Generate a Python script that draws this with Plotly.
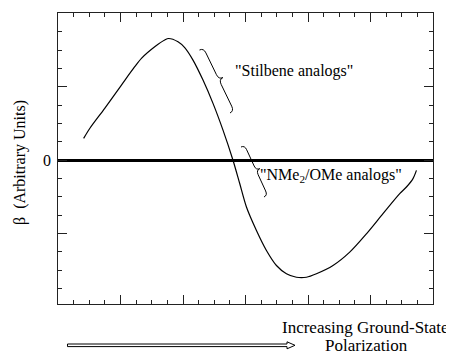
import plotly.graph_objects as go
import numpy as np

# ---- data (arbitrary units) ----
polarization = [1.64, 2.03, 2.99, 4.06, 4.91, 5.34, 6.19, 6.83, 7.08, 7.68, 8.11,
                8.64, 9.28, 9.92, 10.56, 11.20, 11.63, 12.06, 12.70, 13.34, 13.98,
                14.62, 15.26, 15.90, 16.54, 17.60, 18.67, 19.74, 20.80, 21.87,
                22.30, 22.72, 22.94]
beta = [1.19, 1.73, 2.83, 4.10, 5.10, 5.56, 6.19, 6.56, 6.64, 6.46, 6.14,
        5.46, 4.37, 3.10, 1.64, 0.00, -1.27, -2.55, -3.83, -4.92, -5.74,
        -6.19, -6.38, -6.38, -6.19, -5.74, -5.01, -4.01, -2.91, -1.82,
        -1.46, -1.00, -0.55]

y_title = "β  (Arbitrary Units)"
x_title_1 = "Increasing Ground-State"
x_title_2 = "Polarization"
label_stilbene = "\"Stilbene analogs\""
label_nme2 = "\"NMe<sub>2</sub>/OMe analogs\""

# ---- layout geometry (page pixels; page body has an 8px margin) ----
OFF = 8
W, H = 454 - OFF, 352 - OFF
ML, MR, MT, MB = 58 - OFF, 21, 13 - OFF, 48
PW, PH = W - ML - MR, H - MT - MB
FONT = "Liberation Serif, Times New Roman, serif"


def paper(px, py):
    fx, fy = px - OFF, py - OFF
    return (fx - ML) / PW, (H - MB - fy) / PH


def brace_path(p0, p1, depth):
    p0 = np.array(p0, float)
    p1 = np.array(p1, float)
    d = p1 - p0
    L = np.hypot(*d)
    u = d / L
    n = np.array([u[1], -u[0]])
    w = depth / 2.0
    q = min(w * 1.2, L / 5)
    mid = (p0 + p1) / 2
    pts = [
        ("M", [p0]),
        ("Q", [p0 + n * w, p0 + n * w + u * q]),
        ("L", [mid - u * q + n * w]),
        ("Q", [mid + n * w, mid + n * 2 * w]),
        ("Q", [mid + n * w, mid + u * q + n * w]),
        ("L", [p1 - u * q + n * w]),
        ("Q", [p1 + n * w, p1]),
    ]
    s = ""
    for cmd, ps in pts:
        s += cmd + " " + " ".join("%.5f,%.5f" % paper(*pp) for pp in ps) + " "
    return s.strip()


def arrow_path(x0, x1, y, half=1.3, head_len=8, head_half=3.5):
    xs = x1 - head_len
    pts = [(x0, y - half), (xs, y - half), (xs, y - head_half), (x1, y),
           (xs, y + head_half), (xs, y + half), (x0, y + half)]
    s = "M " + " L ".join("%.5f,%.5f" % paper(*p) for p in pts) + " Z"
    return s


fig = go.Figure()
fig.add_trace(go.Scatter(
    x=polarization, y=beta, mode="lines",
    line=dict(color="black", width=1.2, shape="spline", smoothing=0.8),
    showlegend=False, hoverinfo="skip"))

axis_common = dict(
    showgrid=False, showline=True, linecolor="#222", linewidth=1,
    mirror="ticks", ticks="inside", ticklen=9, tickwidth=1, tickcolor="#222",
    showticklabels=False,
    minor=dict(ticks="inside", ticklen=4, tickwidth=1, tickcolor="#222", dtick=1),
)

fig.update_xaxes(range=[0, 24], tickmode="linear", tick0=0, dtick=4,
                 zeroline=False, **axis_common)
fig.update_yaxes(range=[-7.84, 8.03], tickmode="linear", tick0=0, dtick=4,
                 zeroline=True, zerolinecolor="black", zerolinewidth=2.5,
                 **axis_common)

shapes = [
    dict(type="path", xref="paper", yref="paper",
         path=brace_path((199.5, 50), (230, 113), 9),
         line=dict(color="black", width=1)),
    dict(type="path", xref="paper", yref="paper",
         path=brace_path((241, 147), (264, 197), 8),
         line=dict(color="black", width=1)),
    dict(type="path", xref="paper", yref="paper",
         path=arrow_path(67.5, 295, 345.3),
         line=dict(color="black", width=1), fillcolor="white"),
]


def ann(text, px, py, size=16, angle=0, yref_data=None):
    ax, ay = paper(px, py)
    d = dict(text=text, x=ax, y=ay, xref="paper", yref="paper",
             xanchor="center", yanchor="middle", showarrow=False,
             textangle=angle, font=dict(family=FONT, size=size, color="black"))
    if yref_data is not None:
        d["y"] = yref_data
        d["yref"] = "y"
    return d


annotations = [
    ann(label_stilbene, 293.5, 71.5),
    ann(label_nme2, 331, 175),
    ann("0", 46.5, 0, yref_data=0),
    ann(y_title, 20, 163, angle=-90),
    ann(x_title_1, 365.5, 327, size=17),
    ann(x_title_2, 366, 345, size=17),
]

fig.update_layout(
    width=W, height=H, autosize=False,
    margin=dict(l=ML, r=MR, t=MT, b=MB, pad=0),
    paper_bgcolor="white", plot_bgcolor="white",
    shapes=shapes, annotations=annotations,
    font=dict(family=FONT, size=16, color="black"),
)

fig.write_html("out.html")
